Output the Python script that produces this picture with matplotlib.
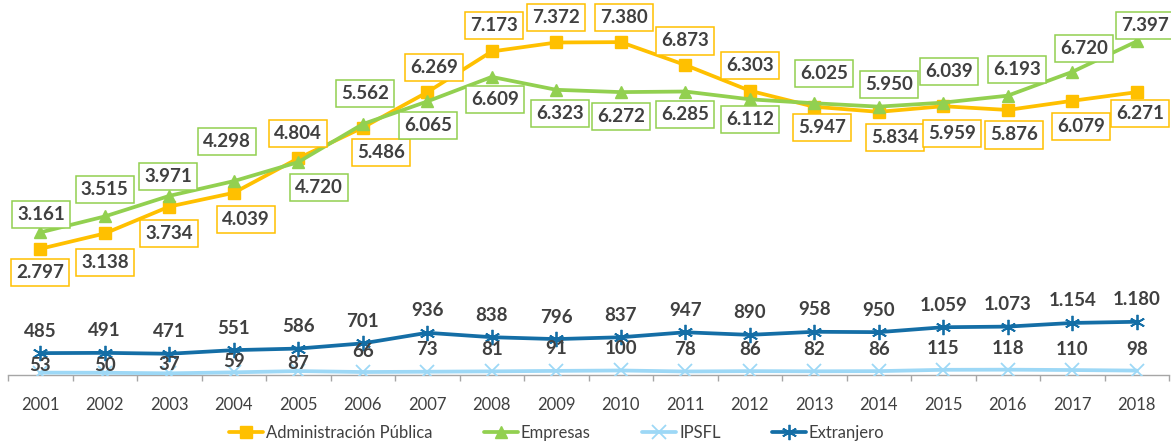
"""Investigadores por sector de financiación, 2001-2018 (recreación del gráfico)."""
import numpy as np
import matplotlib
matplotlib.use("Agg")
import matplotlib.pyplot as plt

plt.rcParams["font.family"] = ["Lato", "DejaVu Sans"]

# --- datos ---
YEARS = list(range(2001, 2019))
ADM_PUBLICA = [2797, 3138, 3734, 4039, 4804, 5486, 6269, 7173, 7372, 7380,
               6873, 6303, 5947, 5834, 5959, 5876, 6079, 6271]
EMPRESAS = [3161, 3515, 3971, 4298, 4720, 5562, 6065, 6609, 6323, 6272,
            6285, 6112, 6025, 5950, 6039, 6193, 6720, 7397]
IPSFL = [53, 50, 37, 59, 87, 66, 73, 81, 91, 100, 78, 86, 82, 86, 115, 118, 110, 98]
EXTRANJERO = [485, 491, 471, 551, 586, 701, 936, 838, 796, 837, 947, 890, 958,
              950, 1059, 1073, 1154, 1180]
SERIES_NAMES = ["Administración Pública", "Empresas", "IPSFL", "Extranjero"]

# --- colocación de etiquetas (desplazamiento en píxeles, dx, dy) ---
ADM_DX = [0, 0, 0, 12, 0, 18, 7, 2, 0, 3, 0, 0, 8, 16, 9, 6, 9, 3]
ADM_DY = [-24, -29, -27, -27, 25, -25, 25, 26, 25, 25, 24, 25, -21, -26, -27, -25, -26, -21]
EMP_DX = [1, 0, -1, -7, 21, 2, 1, 3, 4, 0, 0, 0, 10, 10, 6, 9, 12, 8]
EMP_DY = [18, 27, 19, 40, -25, 31, -24, -23, -24, -24, -23, -20, 30, 22, 31, 26, 23, 16]
IPS_DY = [7, 7, 9, 11, 8, 21, 22, 22, 22, 22, 22, 22, 22, 22, 21, 21, 21, 21]
EXT_DY = 22

C_ADM = "#FFC000"
C_EMP = "#92D050"
C_IPS = "#9DD8F6"
C_EXT = "#146EA6"
C_TXT = "#404040"


def fmt(v):
    return f"{v:,}".replace(",", ".")


fig = plt.figure(figsize=(11.71, 4.41), dpi=100)
ax = fig.add_axes([8 / 1171, 1 - 375 / 441, 1161 / 1171, 375 / 441])

line_kw = dict(lw=2.7, solid_capstyle="round", solid_joinstyle="round", zorder=3)
ax.plot(YEARS, ADM_PUBLICA, color=C_ADM, marker="s", ms=8.5, label=SERIES_NAMES[0], **line_kw)
ax.plot(YEARS, EMPRESAS, color=C_EMP, marker="^", ms=9, label=SERIES_NAMES[1], **line_kw)
ax.plot(YEARS, IPSFL, color=C_IPS, marker="x", ms=10, mew=1.3, label=SERIES_NAMES[2], **line_kw)
ax.plot(YEARS, EXTRANJERO, color=C_EXT, marker=(6, 2, 0), ms=11, mew=1.3,
        label=SERIES_NAMES[3], **line_kw)

lab_kw = dict(textcoords="offset pixels", ha="center", va="center",
              fontsize=13.5, fontweight="bold", color=C_TXT, zorder=6)
box_kw = dict(boxstyle="square,pad=0.27", fc="white", lw=1.1)
for i, yr in enumerate(YEARS):
    ax.annotate(fmt(ADM_PUBLICA[i]), (yr, ADM_PUBLICA[i]), xytext=(ADM_DX[i], ADM_DY[i]),
                bbox=dict(ec=C_ADM, **box_kw), **lab_kw)
    ax.annotate(fmt(EMPRESAS[i]), (yr, EMPRESAS[i]), xytext=(EMP_DX[i], EMP_DY[i]),
                bbox=dict(ec=C_EMP, **box_kw), **lab_kw)
    ax.annotate(fmt(EXTRANJERO[i]), (yr, EXTRANJERO[i]), xytext=(0, EXT_DY), **lab_kw)
    ax.annotate(fmt(IPSFL[i]), (yr, IPSFL[i]), xytext=(0, IPS_DY[i]), **lab_kw)

ax.set_xlim(2000.5, 2018.5)
ax.set_ylim(0, 8314)
for s in ["top", "right", "left"]:
    ax.spines[s].set_visible(False)
ax.spines["bottom"].set_color("#A6A6A6")
ax.spines["bottom"].set_linewidth(1.0)
ax.set_yticks([])
ax.set_xticks(YEARS)
ax.set_xticklabels([str(y) for y in YEARS], fontsize=12, color=C_TXT)
ax.set_xticks(np.arange(2000.5, 2019.0, 1.0), minor=True)
ax.tick_params(axis="x", which="major", length=0, pad=16)
ax.tick_params(axis="x", which="minor", length=4.5, color="#A6A6A6", width=1.0)

fig.legend(loc="center", bbox_to_anchor=(557 / 1171, 1 - 433 / 441), ncol=4,
           frameon=False, fontsize=12, handlelength=2.0, handletextpad=0.2,
           columnspacing=3.1, labelcolor=C_TXT)

fig.savefig("out.png", dpi=100)
